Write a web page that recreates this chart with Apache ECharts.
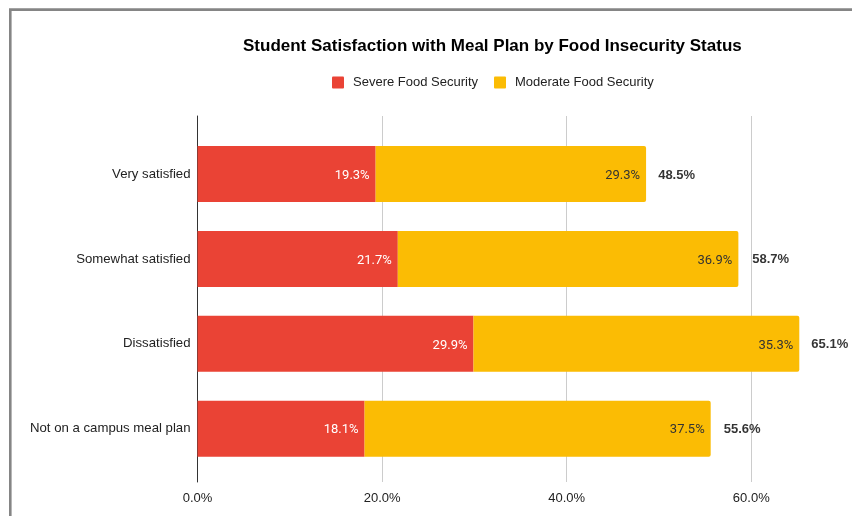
<!DOCTYPE html>
<html>
<head>
<meta charset="utf-8">
<script src="https://cdn.jsdelivr.net/npm/echarts@6/dist/echarts.min.js"></script>
<style>
html,body{margin:0;padding:0;background:#fff;overflow:hidden;width:852px;height:516px;}
#chart{width:1000px;height:516px;}
</style>
</head>
<body>
<div id="chart"></div>
<script>
const categories = ['Very satisfied', 'Somewhat satisfied', 'Dissatisfied', 'Not on a campus meal plan'];
const severe = [19.3, 21.7, 29.9, 18.1];
const moderate = [29.3, 36.9, 35.3, 37.5];
const totals = [48.5, 58.7, 65.1, 55.6];
const xTicks = [0, 20, 40, 60, 80];
const seriesNames = ['Severe Food Security', 'Moderate Food Security'];

const chart = echarts.init(document.getElementById('chart'));
const FONT = '"Liberation Sans", Arial, sans-serif';
const AX_LEFT = 197.5, AX_W = 738.4;

chart.setOption({
  animation: false,
  backgroundColor: '#ffffff',
  graphic: [{
    type: 'rect', silent: true, z: -10,
    shape: { x: 10.3, y: 9.6, width: 1200, height: 1200 },
    style: { fill: 'none', stroke: '#858585', lineWidth: 2.6 }
  }],
  title: {
    text: 'Student Satisfaction with Meal Plan by Food Insecurity Status',
    left: 243, top: 38, padding: 0,
    textStyle: { fontFamily: FONT, fontSize: 17, fontWeight: 'bold', color: '#000' }
  },
  legend: {
    left: 332, top: 76, padding: 0,
    itemWidth: 12, itemHeight: 12, itemGap: 16,
    icon: 'path://M1,0 L11,0 Q12,0 12,1 L12,11 Q12,12 11,12 L1,12 Q0,12 0,11 L0,1 Q0,0 1,0 Z',
    data: seriesNames,
    textStyle: { fontFamily: FONT, fontSize: 13, color: '#222', padding: [0, 0, 0, 4] }
  },
  grid: [
    { left: AX_LEFT, top: 116, width: AX_W, height: 366, containLabel: false },
    { left: AX_LEFT, top: 131.5, width: AX_W, height: 339.7, containLabel: false }
  ],
  xAxis: [
    {
      gridIndex: 0, type: 'value', min: xTicks[0], max: xTicks[xTicks.length - 1], interval: 20,
      axisLine: { show: false }, axisTick: { show: false },
      splitLine: { show: true, lineStyle: { color: '#cccccc', width: 1 } },
      axisLabel: {
        margin: 10, fontFamily: FONT, fontSize: 13, color: '#222',
        formatter: v => v.toFixed(1) + '%'
      }
    },
    {
      gridIndex: 1, type: 'value', min: xTicks[0], max: xTicks[xTicks.length - 1],
      show: false, splitLine: { show: false }
    }
  ],
  yAxis: [
    {
      gridIndex: 0, type: 'value', min: 0, max: 1,
      axisLine: { show: true, lineStyle: { color: '#333', width: 1 } },
      axisTick: { show: false }, axisLabel: { show: false }, splitLine: { show: false }
    },
    {
      gridIndex: 1, type: 'category', data: categories, inverse: true,
      axisLine: { show: false }, axisTick: { show: false },
      axisLabel: { margin: 7, fontFamily: FONT, fontSize: 13.2, color: '#222' }
    }
  ],
  series: [
    {
      name: seriesNames[0], type: 'bar', stack: 'total', xAxisIndex: 1, yAxisIndex: 1,
      data: severe, barWidth: 56,
      itemStyle: { color: '#EA4335' },
      label: {
        show: true, position: 'insideRight', distance: 6, offset: [0, 1.5],
        fontFamily: 'Roboto', fontSize: 13, color: '#ffffff',
        formatter: p => p.value.toFixed(1) + '%'
      }
    },
    {
      name: seriesNames[1], type: 'bar', stack: 'total', xAxisIndex: 1, yAxisIndex: 1,
      data: moderate, barWidth: 56,
      itemStyle: { color: '#FBBC04', borderRadius: [0, 2, 2, 0] },
      label: {
        show: true, position: 'insideRight', distance: 6, offset: [0, 1.5],
        fontFamily: 'Roboto', fontSize: 13, color: '#333333',
        formatter: p => p.value.toFixed(1) + '%'
      }
    },
    {
      name: 'Total', type: 'scatter', xAxisIndex: 1, yAxisIndex: 1,
      data: totals.map((t, i) => [t, categories[i]]),
      symbolSize: 0, silent: true,
      label: {
        show: true, position: 'right', distance: 13, offset: [0, 1],
        fontFamily: FONT, fontSize: 13, fontWeight: 'bold', color: '#000',
        formatter: p => p.value[0].toFixed(1) + '%'
      }
    }
  ]
});
</script>
</body>
</html>
